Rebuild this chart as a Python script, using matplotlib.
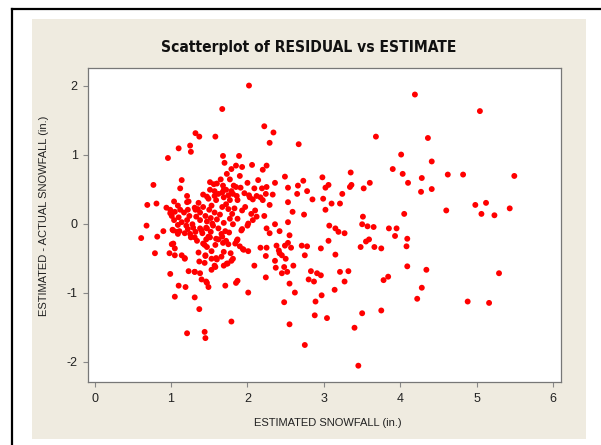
import matplotlib
matplotlib.use('Agg')
import matplotlib.pyplot as plt
from matplotlib.patches import Rectangle
from matplotlib.lines import Line2D

plt.rcParams['axes.unicode_minus'] = False

# estimated snowfall (x) and residual (y)
estimate = [
    2.02, 4.19, 5.04, 1.67, 2.22, 2.34, 1.32, 1.37, 1.58, 3.68, 4.36, 2.29, 2.67, 1.25,
    1.10, 1.26, 0.96, 4.01, 1.68, 1.89, 1.70, 4.41, 2.06, 2.25, 1.85, 1.93, 1.79, 3.90,
    2.20, 1.73, 3.35, 4.03, 4.62, 4.82, 2.49, 2.98, 5.49, 4.28, 1.90, 1.77, 2.14, 1.14,
    2.73, 1.65, 1.51, 2.36, 2.00, 3.60, 4.10, 1.60, 0.77, 3.06, 3.36, 2.66, 1.82, 2.25,
    3.02, 3.34, 1.91, 2.53, 3.52, 4.41, 1.12, 1.69, 1.51, 1.79, 2.78, 4.27, 1.67, 1.62,
    1.81, 2.24, 2.65, 3.24, 1.42, 1.21, 1.86, 2.12, 2.33, 2.03, 1.47, 2.85, 2.99, 1.59,
    1.77, 1.87, 2.20, 2.07, 1.23, 1.04, 2.53, 3.10, 3.21, 5.12, 0.69, 0.81, 1.36, 1.72,
    2.29, 4.98, 1.53, 1.67, 1.97, 0.94, 1.42, 1.83, 1.75, 5.43, 0.99, 1.12, 1.22, 1.32,
    1.50, 1.93, 2.10, 4.60, 3.02, 2.59, 1.05, 1.17, 1.38, 1.57, 0.99, 4.05, 5.06, 1.80,
    2.05, 5.23, 2.74, 1.64, 1.01, 1.24, 1.45, 2.22, 1.33, 1.10, 2.12, 3.51, 1.52, 1.77,
    1.87, 1.60, 1.04, 1.21, 1.38, 2.07, 1.47, 1.14, 2.53, 1.69, 2.01, 1.28, 1.54, 1.81,
    3.50, 1.09, 2.36, 2.00, 0.68, 3.07, 3.57, 3.65, 3.85, 3.95, 3.15, 2.25, 1.38, 1.47,
    1.62, 1.93, 1.22, 1.02, 0.90, 2.42, 3.19, 1.32, 1.08, 1.52, 1.76, 1.18, 3.27, 2.29,
    1.41, 2.55, 1.67, 3.93, 0.82, 0.61, 1.26, 1.49, 1.59, 1.87, 4.09, 3.59, 3.06, 1.34,
    1.72, 3.55, 2.53, 1.03, 1.42, 1.84, 1.58, 1.75, 1.90, 2.71, 2.78, 2.17, 2.25, 2.38,
    2.49, 3.48, 3.66, 2.57, 2.96, 4.08, 3.75, 1.47, 1.05, 2.41, 1.95, 2.01, 1.53, 1.69,
    0.98, 0.79, 1.36, 1.78, 2.42, 1.05, 3.15, 2.45, 1.14, 2.24, 2.75, 1.45, 1.66, 1.81,
    2.50, 1.18, 1.53, 1.37, 1.60, 2.36, 1.74, 1.69, 2.60, 4.09, 2.09, 1.58, 2.48, 2.37,
    1.53, 4.34, 1.23, 3.32, 1.31, 2.52, 1.38, 0.99, 5.29, 2.91, 3.21, 2.83, 2.45, 2.24,
    3.84, 2.80, 3.78, 1.40, 2.96, 2.87, 3.27, 1.87, 1.85, 1.47, 2.55, 1.49, 1.71, 1.10,
    1.19, 4.28, 3.14, 2.01, 2.62, 2.97, 1.05, 1.31, 4.22, 2.89, 2.48, 4.88, 5.16, 1.37,
    3.75, 3.50, 2.88, 3.04, 1.79, 2.55, 3.40, 1.21, 1.44, 1.45, 2.75, 3.45,
    1.68, 1.56, 1.72, 1.85, 2.09, 2.19, 1.57, 1.49, 1.57, 1.69, 1.75, 1.96, 2.02, 2.17,
    1.21, 1.09, 1.31, 1.35, 1.03, 1.09, 1.11, 1.20, 1.29, 1.40, 1.46, 1.55, 1.66, 1.71,
    1.92, 1.25, 1.31, 1.46, 1.44, 1.51, 1.62, 1.68, 1.86, 1.94, 1.01, 1.18, 1.45, 1.59,
    1.44, 1.57, 1.73, 1.79, 1.31, 1.46,
]
residual = [
    2.00, 1.87, 1.63, 1.66, 1.41, 1.32, 1.31, 1.26, 1.26, 1.26, 1.24, 1.17, 1.15, 1.13,
    1.09, 1.04, 0.95, 1.00, 0.98, 0.98, 0.88, 0.90, 0.85, 0.84, 0.84, 0.82, 0.79, 0.79,
    0.78, 0.72, 0.74, 0.72, 0.71, 0.71, 0.68, 0.67, 0.69, 0.66, 0.69, 0.64, 0.63, 0.63,
    0.62, 0.64, 0.60, 0.59, 0.59, 0.59, 0.59, 0.58, 0.56, 0.56, 0.56, 0.55, 0.55, 0.53,
    0.52, 0.53, 0.52, 0.52, 0.51, 0.50, 0.51, 0.49, 0.49, 0.47, 0.47, 0.46, 0.45, 0.43,
    0.43, 0.43, 0.43, 0.43, 0.42, 0.40, 0.40, 0.40, 0.42, 0.38, 0.39, 0.35, 0.36, 0.34,
    0.34, 0.34, 0.34, 0.35, 0.32, 0.32, 0.31, 0.29, 0.29, 0.30, 0.27, 0.29, 0.30, 0.28,
    0.27, 0.27, 0.26, 0.24, 0.24, 0.23, 0.24, 0.22, 0.21, 0.22, 0.20, 0.20, 0.20, 0.20,
    0.20, 0.19, 0.19, 0.19, 0.20, 0.17, 0.17, 0.16, 0.16, 0.16, 0.15, 0.14, 0.14, 0.14,
    0.14, 0.12, 0.13, 0.13, 0.11, 0.11, 0.11, 0.11, 0.10, 0.09, 0.10, 0.10, 0.08, 0.07,
    0.07, 0.06, 0.05, 0.05, 0.05, 0.05, 0.03, 0.02, 0.02, 0.01, 0.00, -0.01, 0.00, -0.01,
    -0.01, -0.02, -0.01, -0.03, -0.03, -0.03, -0.04, -0.05, -0.07, -0.07, -0.07, -0.07, -0.07, -0.07,
    -0.07, -0.08, -0.08, -0.09, -0.11, -0.11, -0.12, -0.12, -0.12, -0.12, -0.13, -0.14, -0.14, -0.14,
    -0.14, -0.17, -0.19, -0.18, -0.19, -0.21, -0.20, -0.19, -0.22, -0.23, -0.22, -0.23, -0.25, -0.25,
    -0.25, -0.26, -0.28, -0.29, -0.29, -0.29, -0.31, -0.30, -0.33, -0.32, -0.33, -0.35, -0.35, -0.32,
    -0.32, -0.34, -0.34, -0.35, -0.36, -0.33, -0.36, -0.34, -0.36, -0.39, -0.38, -0.40, -0.40, -0.41,
    -0.43, -0.43, -0.42, -0.43, -0.43, -0.46, -0.45, -0.46, -0.46, -0.47, -0.46, -0.46, -0.48, -0.51,
    -0.51, -0.51, -0.51, -0.55, -0.52, -0.54, -0.58, -0.61, -0.61, -0.62, -0.61, -0.63, -0.63, -0.64,
    -0.67, -0.67, -0.69, -0.69, -0.70, -0.70, -0.72, -0.73, -0.72, -0.72, -0.70, -0.69, -0.72, -0.78,
    -0.77, -0.81, -0.82, -0.81, -0.75, -0.84, -0.84, -0.83, -0.86, -0.86, -0.87, -0.92, -0.90, -0.90,
    -0.92, -0.93, -0.96, -1.00, -1.00, -1.04, -1.06, -1.07, -1.09, -1.13, -1.14, -1.13, -1.15, -1.24,
    -1.26, -1.30, -1.33, -1.37, -1.42, -1.46, -1.51, -1.59, -1.57, -1.66, -1.76, -2.06,
    0.55, 0.57, 0.49, 0.53, 0.51, 0.51, 0.47, 0.36, 0.40, 0.38, 0.41, 0.44, 0.41, 0.38,
    0.31, 0.26, 0.23, 0.21, -0.10, -0.15, -0.11, -0.03, -0.06, -0.10, -0.06, -0.03, -0.15, -0.11,
    -0.10, -0.15, -0.20, -0.23, -0.31, -0.20, -0.23, -0.28, -0.25, -0.37, -0.30, -0.50, -0.47, -0.50,
    -0.57, -0.61, -0.58, -0.54, -0.70, -0.84,
]
x_ticks = [0, 1, 2, 3, 4, 5, 6]
y_ticks = [-2, -1, 0, 1, 2]

fig = plt.figure(figsize=(6.01, 4.45), dpi=100)
fig.patch.set_facecolor('white')

# beige panel and black frame lines
fig.patches.append(Rectangle((0.053, 0.013), 0.922, 0.944, transform=fig.transFigure,
                             facecolor='#efebe0', edgecolor='none', zorder=-2))
fig.lines.append(Line2D([0.020, 0.020], [0.0, 0.979], transform=fig.transFigure,
                        color='black', lw=1.6, zorder=-1))
fig.lines.append(Line2D([0.020, 1.0], [0.979, 0.979], transform=fig.transFigure,
                        color='black', lw=1.6, zorder=-1))

ax = fig.add_axes([0.1465, 0.141, 0.7875, 0.7055])
ax.set_zorder(2)
ax.set_facecolor('white')
ax.scatter(estimate, residual, s=18, color='#ff0000', edgecolors='none', zorder=3)

ax.set_xlim(-0.085, 6.105)
ax.set_ylim(-2.30, 2.25)
ax.set_xticks(x_ticks)
ax.set_yticks(y_ticks)
ax.tick_params(direction='out', length=3.5, width=0.8, color='#888888',
               labelsize=9, labelcolor='#222222', pad=4)
for sp in ax.spines.values():
    sp.set_color('#777777')
    sp.set_linewidth(0.9)

font = ['Liberation Sans', 'DejaVu Sans']
for lab in ax.get_xticklabels() + ax.get_yticklabels():
    lab.set_family(font)

ax.set_xlabel('ESTIMATED SNOWFALL (in.)', fontsize=8, family=font, color='#222222')
ax.set_ylabel('ESTIMATED - ACTUAL SNOWFALL (in.)', fontsize=8, family=font, color='#222222')
ax.xaxis.set_label_coords(0.506, -0.113)
ax.yaxis.set_label_coords(-0.082, 0.53)

fig.text(0.513, 0.893, 'Scatterplot of RESIDUAL vs ESTIMATE', ha='center', va='center',
         fontsize=11.2, fontweight='bold', fontstretch='condensed',
         family=['DejaVu Sans'], color='#111111')

fig.savefig('out.png', dpi=100)
